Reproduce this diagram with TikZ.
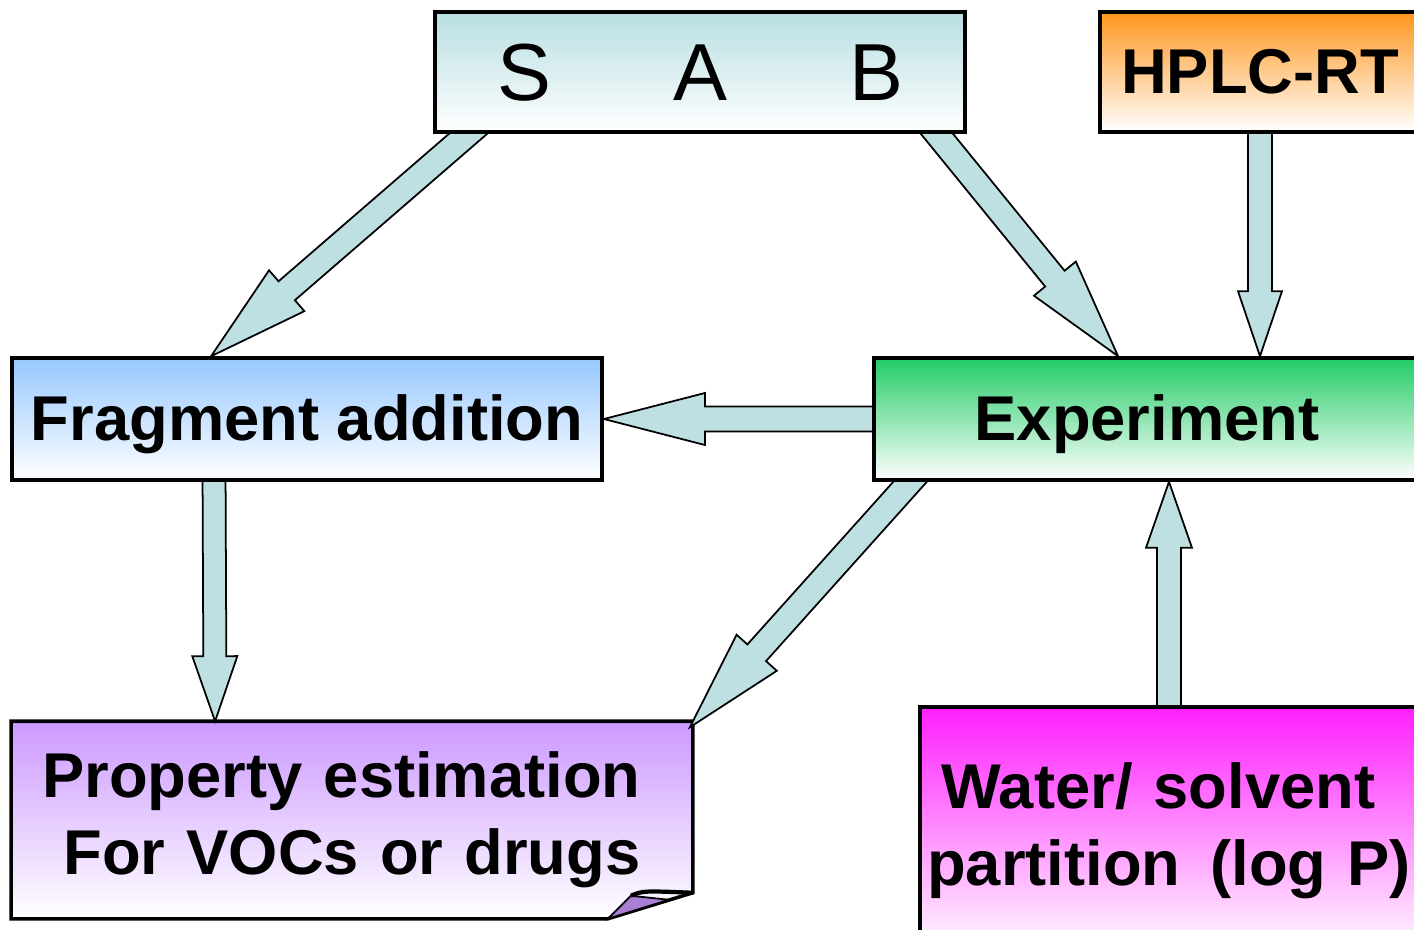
\documentclass[tikz,border=0pt]{standalone}
\usepackage{fontspec}
\setmainfont{Liberation Sans}
\usetikzlibrary{calc,backgrounds}

\definecolor{arrowfill}{RGB}{190,224,226}
\definecolor{sabtop}{RGB}{184,222,226}
\definecolor{hplctop}{RGB}{255,150,30}
\definecolor{fragtop}{RGB}{150,200,255}
\definecolor{exptop}{RGB}{34,204,102}
\definecolor{proptop}{RGB}{204,153,255}
\definecolor{watertop}{RGB}{255,30,255}
\definecolor{flapcol}{RGB}{170,125,215}

\tikzset{
  boxfont/.style={font=\bfseries\fontsize{18}{22}\selectfont, inner sep=0pt, align=center, text height=0.572cm, text depth=0.134cm},
  box/.style={boxfont, draw, line width=1pt, bottom color=white},
  twolines/.style={text height=0.572cm, text depth=1.03cm},
  arrowbody/.style={draw, fill=arrowfill, line width=0.5pt},
}

% fat arrow: from, to, shaft half width, head half width, head length
\newcommand{\fatarrow}[5]{%
  \coordinate (fa-s) at ($(#1)!-0.15cm!(#2)$);
  \coordinate (fa-b) at ($(#2)!#5!(#1)$);
  \draw[arrowbody] ($(fa-s)!#3!90:(#2)$) -- ($(fa-b)!#3!90:(#2)$) -- ($(fa-b)!#4!90:(#2)$) -- (#2)
    -- ($(fa-b)!#4!-90:(#2)$) -- ($(fa-b)!#3!-90:(#2)$) -- ($(fa-s)!#3!-90:(#2)$) -- cycle;
}

\begin{document}
\begin{tikzpicture}[x=0.01cm, y=-0.01cm]
\useasboundingbox (0,0) rectangle (1414,930);
\begin{scope}
\clip (0,0) rectangle (1414,930);
\node[box, top color=sabtop, minimum width=5.3cm, minimum height=1.2cm, font=\fontsize{23}{27}\selectfont, text height=0.733cm, text depth=0.172cm] (sab) at (700,72) {S\hspace{1.22cm}A\hspace{1.22cm}B};
\node[box, top color=hplctop, minimum width=3.2cm, minimum height=1.2cm] (hplc) at (1260,72) {HPLC-RT};
\node[box, top color=fragtop, minimum width=5.9cm, minimum height=1.22cm] (frag) at (307,419) {Fragment addition};
\node[box, top color=exptop, minimum width=5.46cm, minimum height=1.22cm] (exp) at (1147,419) {Experiment};
\node[boxfont, twolines, text width=6.8cm, minimum height=1.96cm] (prop) at (352,820) {Property estimation\mbox{\ }\\For VOCs or drugs};
\node[box, top color=watertop, twolines, text width=4.98cm, minimum height=2.48cm] (water) at (1169,831) {Water/ solvent\mbox{\ }\\partition\ \hspace{.14em}(log P)};
\end{scope}

\begin{scope}[on background layer]
% note box with folded corner
\shadedraw[top color=proptop, bottom color=white, line width=1pt] (prop.north west) -- (prop.north east) -- ([shift={(0,-26)}]prop.south east) -- ([shift={(-85,0)}]prop.south east) -- (prop.south west) -- cycle;
\filldraw[fill=flapcol, line width=0.5pt] ([shift={(-85,0)}]prop.south east) -- ([shift={(-62,-23)}]prop.south east) -- ([shift={(-24,-19)}]prop.south east) -- cycle;
\draw[line width=1.2pt] ([shift={(-62,-23)}]prop.south east) .. controls ([shift={(-50,-28)}]prop.south east) .. ([shift={(0,-26)}]prop.south east);

\coordinate (a1s) at ([shift={(35,0)}]sab.south west);
\coordinate (a1e) at ([shift={(201,0)}]frag.north west);
\coordinate (a2s) at ([shift={(-30,0)}]sab.south east);
\coordinate (a2e) at ([shift={(246,0)}]exp.north west);
\coordinate (a3e) at (hplc.south |- exp.north);
\coordinate (a5s) at ([shift={(204,0)}]frag.south west);
\coordinate (a5e) at ([shift={(204,0)}]prop.north west);
\coordinate (a6s) at ([shift={(38,0)}]exp.south west);
\coordinate (a6e) at ([shift={(-3,6)}]prop.north east);
\coordinate (a7e) at (water.north |- exp.south);

\fatarrow{a1s}{a1e}{0.125cm}{0.27cm}{1cm}
\fatarrow{a2s}{a2e}{0.125cm}{0.27cm}{1cm}
\fatarrow{hplc.south}{a3e}{0.12cm}{0.22cm}{0.65cm}
\fatarrow{exp.west}{frag.east}{0.125cm}{0.26cm}{1.01cm}
\fatarrow{a5s}{a5e}{0.115cm}{0.225cm}{0.65cm}
\fatarrow{a6s}{a6e}{0.125cm}{0.27cm}{1cm}
\fatarrow{water.north}{a7e}{0.12cm}{0.23cm}{0.66cm}
\end{scope}
\end{tikzpicture}
\end{document}
